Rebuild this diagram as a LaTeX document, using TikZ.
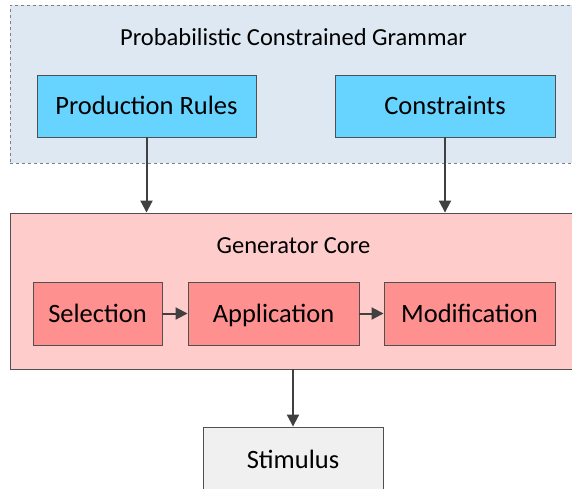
\documentclass[tikz,border=0pt]{standalone}
\usepackage{fontspec}
\setmainfont{Carlito}
\usetikzlibrary{arrows.meta}

\definecolor{grammarbg}{HTML}{DEE8F2}
\definecolor{rulecyan}{HTML}{66D4FF}
\definecolor{corebg}{HTML}{FFCCCC}
\definecolor{stagered}{HTML}{FF9090}
\definecolor{stimgray}{HTML}{F0F0F0}
\definecolor{edgegray}{HTML}{505050}
\definecolor{arrowgray}{HTML}{404040}

\tikzset{
  box/.style={draw=edgegray, line width=0.9pt, inner sep=0pt, text height=17pt, text depth=0pt,
    font=\fontsize{26.5}{30}\selectfont},
  flow/.style={draw=arrowgray, line width=2pt, -{Triangle[length=12pt,width=12pt]}},
  title/.style={anchor=base, font=\fontsize{24.5}{28}\selectfont}
}

\begin{document}
\begin{tikzpicture}[x=1pt,y=-1pt]
  \useasboundingbox (0,0) rectangle (572,488);
  \clip (0,0) rectangle (572,488);
  % grammar block
  \node[box, draw=gray, dashed, fill=grammarbg, minimum width=567pt, minimum height=158pt] (grammar) at (293.5,84) {};
  \node[title] (grammartitle) at (293.5,45) {Probabilistic Constrained Grammar};
  \node[box, fill=rulecyan, minimum width=219pt, minimum height=62pt] (rules) at (146.5,106) {Production Rules};
  \node[box, fill=rulecyan, minimum width=220pt, minimum height=62pt] (constraints) at (445,106) {Constraints};
  % generator block
  \node[box, fill=corebg, minimum width=567pt, minimum height=156pt] (core) at (293.5,291) {};
  \node[title] (coretitle) at (293.5,253) {Generator Core};
  \node[box, fill=stagered, minimum width=129pt, minimum height=63pt] (selection) at (97.5,313.5) {Selection};
  \node[box, fill=stagered, minimum width=171pt, minimum height=63pt] (application) at (273.5,313.5) {Application};
  \node[box, fill=stagered, minimum width=171pt, minimum height=63pt] (modification) at (469.5,313.5) {Modification};
  % output
  \node[box, fill=stimgray, minimum width=180pt, minimum height=68pt] (stimulus) at (293,461) {};
  \node[anchor=base, font=\fontsize{26.5}{30}\selectfont] (stimtext) at (293,468) {Stimulus};
  % connectors
  \draw[flow] (rules) -- (rules |- core.north);
  \draw[flow] (constraints) -- (constraints |- core.north);
  \draw[flow] (selection) -- (application);
  \draw[flow] (application) -- (modification);
  \draw[flow] (core.south -| stimulus) -- (stimulus);
\end{tikzpicture}
\end{document}
